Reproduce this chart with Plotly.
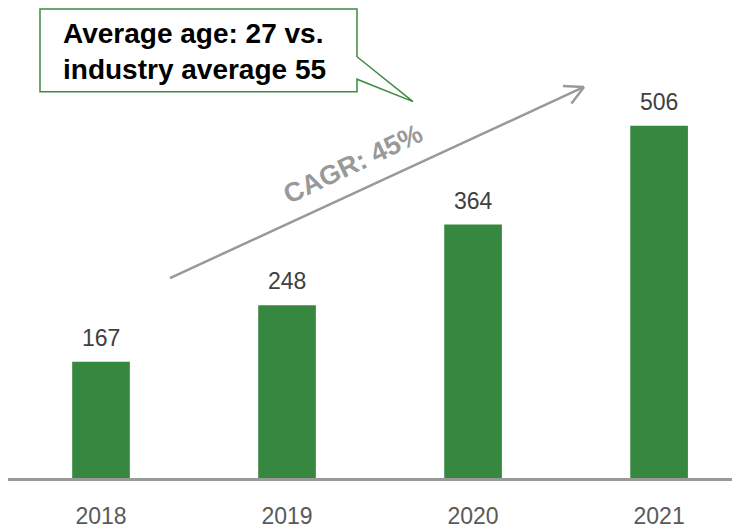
import math
import plotly.graph_objects as go

years = ["2018", "2019", "2020", "2021"]
values = [167, 248, 364, 506]
callout_text = "Average age: 27 vs.<br>industry average 55"
cagr_text = "CAGR: 45%"

# the page body adds an 8px offset, so the figure is drawn 8px smaller
OFF = 8
W, H = 740 - OFF, 529 - OFF
ML, MR, MT, MB = 0, 0, 0, 39
PW, PH = W - ML - MR, H - MT - MB


def px(x):
    return (x - OFF - ML) / PW


def py(y):
    return (H - MB - (y - OFF)) / PH


fig = go.Figure()
fig.add_trace(go.Bar(
    x=years, y=values,
    marker=dict(color="#36873f", line=dict(width=0)),
    width=0.31,
    hoverinfo="skip",
))

for i, v in enumerate(values):
    fig.add_annotation(
        x=i, y=v, text=str(v), showarrow=False,
        yanchor="bottom", yshift=9,
        font=dict(family="Liberation Sans, Arial", size=23, color="#404040"),
    )

# callout box with tail
pts = [(40, 9), (357, 9), (357, 58), (413, 104), (357, 81), (357, 94), (40, 94)]
path = "M " + " L ".join(f"{px(a):.5f},{py(b):.5f}" for a, b in pts) + " Z"
fig.add_shape(type="path", path=path, xref="paper", yref="paper",
              line=dict(color="#3d8b40", width=1.5), fillcolor="white")
fig.add_annotation(
    x=px(61), y=py(53), xref="paper", yref="paper", text=callout_text,
    showarrow=False, xanchor="left", yanchor="middle", align="left",
    font=dict(family="Liberation Sans, Arial", size=28, color="black", weight="bold"),
)

# CAGR arrow
x0, y0, x1, y1 = 170, 285, 584, 89
fig.add_shape(type="line", xref="paper", yref="paper",
              x0=px(x0), y0=py(y0), x1=px(x1), y1=py(y1),
              line=dict(color="#999999", width=2.5))
ang = math.atan2(y0 - y1, x0 - x1)
for s in (-1, 1):
    a = ang + s * math.radians(28)
    fig.add_shape(type="line", xref="paper", yref="paper",
                  x0=px(x1), y0=py(y1),
                  x1=px(x1 + 21 * math.cos(a)), y1=py(y1 + 21 * math.sin(a)),
                  line=dict(color="#999999", width=2.5))
fig.add_annotation(
    x=px(353), y=py(168), xref="paper", yref="paper", text=cagr_text,
    showarrow=False, textangle=-25.3, xanchor="center", yanchor="middle",
    font=dict(family="Liberation Sans, Arial", size=27, color="#999999", weight="bold"),
)

fig.update_layout(
    width=W, height=H,
    margin=dict(l=ML, r=MR, t=MT, b=MB, pad=0),
    plot_bgcolor="white", paper_bgcolor="white",
    showlegend=False,
    xaxis=dict(
        range=[-0.5, 3.435], showgrid=False, zeroline=False,
        showline=True, linecolor="#999999", linewidth=2.5,
        ticks="", ticklabelstandoff=16,
        tickfont=dict(family="Liberation Sans, Arial", size=23, color="#595959"),
    ),
    yaxis=dict(range=[0, 675], visible=False),
)

fig.write_html("out.html")
